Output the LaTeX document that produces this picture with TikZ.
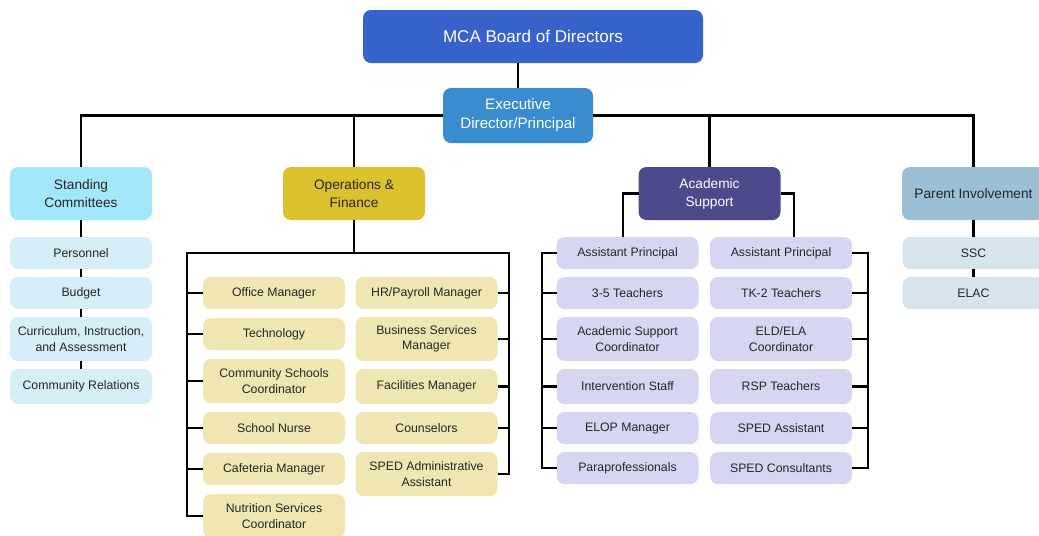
\documentclass[tikz,border=0pt]{standalone}
\usepackage{fontspec}
\setmainfont{Liberation Sans}
\usetikzlibrary{positioning}

\definecolor{boardblue}{HTML}{3762CB}
\definecolor{execblue}{HTML}{3A8CD0}
\definecolor{standcyan}{HTML}{A2E8FA}
\definecolor{opsgold}{HTML}{DCC12E}
\definecolor{acadpurple}{HTML}{4C4A8A}
\definecolor{parentblue}{HTML}{9BBFD5}
\definecolor{standitem}{HTML}{D5EEF8}
\definecolor{opsitem}{HTML}{EFE6B1}
\definecolor{acaditem}{HTML}{D7D6F2}
\definecolor{parentitem}{HTML}{D6E4EE}
\definecolor{ink}{HTML}{262626}

\begin{document}
\begin{tikzpicture}[line width=1.3pt]
    \useasboundingbox (0,0) rectangle (20.78,-10.7);
    % Styles
    \tikzstyle{block} = [rectangle, rounded corners=0.16cm, align=center, inner sep=1pt, outer sep=0pt]
    \tikzstyle{group} = [block, minimum width=2.84cm, minimum height=1.06cm, text=ink, font=\fontsize{7.8}{10.2}\selectfont]
    \tikzstyle{item} = [block, minimum width=2.84cm, minimum height=0.64cm, text=ink, font=\fontsize{7}{8.8}\selectfont]
    \tikzstyle{tall} = [minimum height=0.88cm]
    \tikzstyle{mid} = [minimum height=0.7cm]
    \tikzstyle{stitem} = [item, fill=standitem]
    \tikzstyle{opitem} = [item, fill=opsitem]
    \tikzstyle{acitem} = [item, fill=acaditem]
    \tikzstyle{paitem} = [item, fill=parentitem]
    \tikzstyle{line} = [draw, black, line width=1.3pt]

    % Nodes
    \node [block, fill=boardblue, text=white, minimum width=6.8cm, minimum height=1.06cm, font=\fontsize{9.7}{12}\selectfont] (board) at (10.66,-0.73) {MCA Board of Directors};
    \node [block, fill=execblue, text=white, minimum width=3cm, minimum height=1.1cm, font=\fontsize{8.6}{10.8}\selectfont] (exec) at (10.36,-2.31) {Executive\\Director/Principal};

    \node [group, fill=standcyan] (stand) at (1.62,-3.87) {Standing\\Committees};
    \node [group, fill=opsgold] (ops) at (7.08,-3.87) {Operations \&\\Finance};
    \node [group, fill=acadpurple, text=white] (acad) at (14.19,-3.87) {Academic\\Support};
    \node [group, fill=parentblue, minimum width=2.86cm] (parent) at (19.47,-3.87) {Parent Involvement};

    % standing committees
    \node [stitem, below=0.34cm of stand] (personnel) {Personnel};
    \node [stitem, below=0.16cm of personnel] (budget) {Budget};
    \node [stitem, tall, below=0.16cm of budget] (curriculum) {Curriculum, Instruction,\\and Assessment};
    \node [stitem, mid, below=0.16cm of curriculum] (relations) {Community Relations};

    % operations, two columns
    \node [opitem] (office) at (5.48,-5.86) {Office Manager};
    \node [opitem, below=0.18cm of office] (tech) {Technology};
    \node [opitem, tall, below=0.18cm of tech] (csc) {Community Schools\\Coordinator};
    \node [opitem, below=0.18cm of csc] (nurse) {School Nurse};
    \node [opitem, below=0.18cm of nurse] (cafeteria) {Cafeteria Manager};
    \node [opitem, tall, below=0.18cm of cafeteria] (nutrition) {Nutrition Services\\Coordinator};

    \node [opitem] (payroll) at (8.53,-5.86) {HR/Payroll Manager};
    \node [opitem, tall, below=0.16cm of payroll] (business) {Business Services\\Manager};
    \node [opitem, mid, below=0.16cm of business] (facilities) {Facilities Manager};
    \node [opitem, below=0.16cm of facilities] (counselors) {Counselors};
    \node [opitem, tall, below=0.16cm of counselors] (spedadmin) {SPED Administrative\\Assistant};

    % academic support, two columns
    \node [acitem] (apl) at (12.55,-5.06) {Assistant Principal};
    \node [acitem, below=0.16cm of apl] (grades) {3-5 Teachers};
    \node [acitem, tall, below=0.16cm of grades] (asc) {Academic Support\\Coordinator};
    \node [acitem, mid, below=0.16cm of asc] (intervention) {Intervention Staff};
    \node [acitem, below=0.16cm of intervention] (elop) {ELOP Manager};
    \node [acitem, below=0.16cm of elop] (para) {Paraprofessionals};

    \node [acitem] (apr) at (15.62,-5.06) {Assistant Principal};
    \node [acitem, below=0.16cm of apr] (tk) {TK-2 Teachers};
    \node [acitem, tall, below=0.16cm of tk] (eld) {ELD/ELA\\Coordinator};
    \node [acitem, mid, below=0.16cm of eld] (rsp) {RSP Teachers};
    \node [acitem, below=0.16cm of rsp] (spedasst) {SPED Assistant};
    \node [acitem, below=0.16cm of spedasst] (spedcons) {SPED Consultants};

    % parent involvement
    \node [paitem, below=0.34cm of parent] (ssc) {SSC};
    \node [paitem, below=0.16cm of ssc] (elac) {ELAC};

    % Edges
    \path [line] (exec.north) -- (exec.north |- board.south);
    \path [line] (exec.west) -| (stand.north);
    \path [line] (ops.north) -- (ops.north |- exec.west);
    \path [line] (exec.east) -| (acad.north);
    \path [line] (acad.north |- exec.east) -| (parent.north);

    \foreach \a/\b in {stand/personnel, personnel/budget, budget/curriculum, curriculum/relations}
        \path [line] (\a.south) -- (\b.north);

    % bracket under operations
    \coordinate (opsleft) at (3.74,-5.06);
    \coordinate (opsright) at (10.18,-5.06);
    \path [line] (ops.south) -- (ops.south |- opsleft);
    \path [line] (nutrition.west) -| (opsleft) -- (opsright) |- (spedadmin.east);
    \foreach \n in {office, tech, csc, nurse, cafeteria}
        \path [line] (\n.west) -- (\n.west -| opsleft);
    \foreach \n in {payroll, business, facilities, counselors}
        \path [line] (\n.east) -- (\n.east -| opsright);

    % brackets under academic support
    \coordinate (acleft) at (10.84,-5.06);
    \coordinate (acright) at (17.36,-5.06);
    \path [line] (acad.west) -| ([xshift=-0.09cm]apl.north);
    \path [line] (acad.east) -| ([xshift=0.26cm]apr.north);
    \path [line] (apl.west) -- (acleft) |- (para.west);
    \path [line] (apr.east) -- (acright) |- (spedcons.east);
    \foreach \n in {grades, asc, intervention, elop}
        \path [line] (\n.west) -- (\n.west -| acleft);
    \foreach \n in {tk, eld, rsp, spedasst}
        \path [line] (\n.east) -- (\n.east -| acright);

    \path [line] (parent.south) -- (ssc.north);
    \path [line] (ssc.south) -- (elac.north);
\end{tikzpicture}
\end{document}
